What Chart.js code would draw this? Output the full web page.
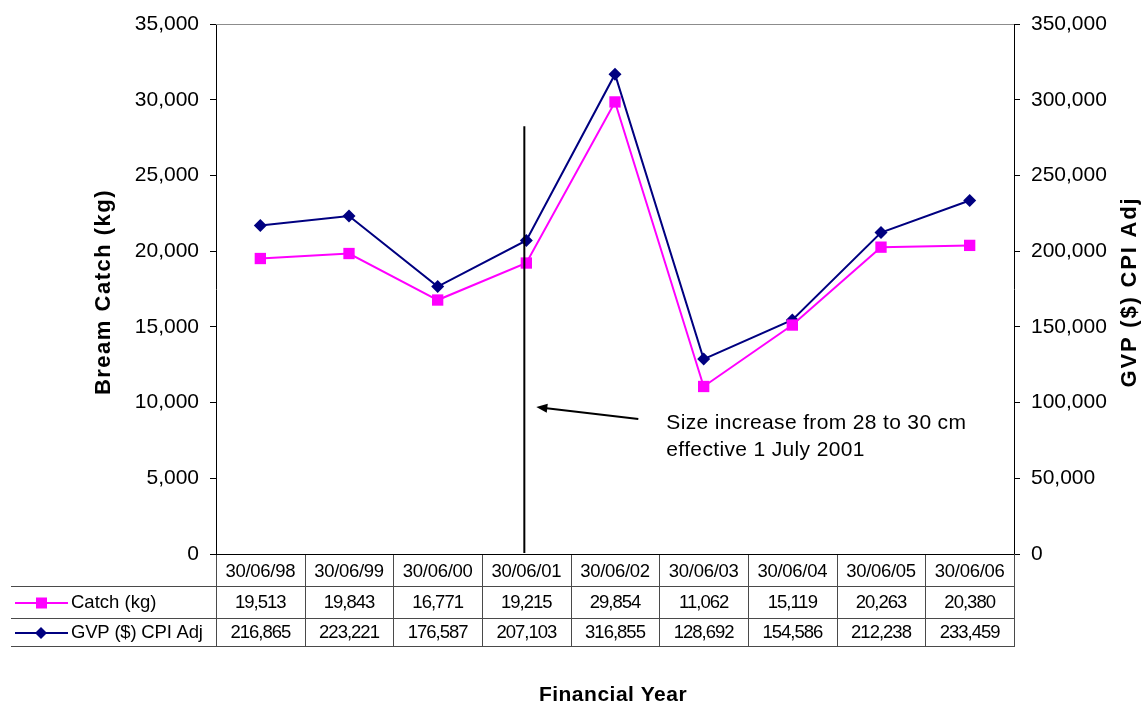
<!DOCTYPE html>
<html>
<head>
<meta charset="utf-8">
<script src="https://cdn.jsdelivr.net/npm/chart.js@4.4.1/dist/chart.umd.min.js"></script>
<style>
  html, body { margin: 0; padding: 0; background: #ffffff; }
  canvas { display: block; }
</style>
</head>
<body>
<canvas id="chart" width="1143" height="707"></canvas>
<script>
// Financial years (30 June year end)
const periods = ['30/06/98', '30/06/99', '30/06/00', '30/06/01', '30/06/02', '30/06/03', '30/06/04', '30/06/05', '30/06/06'];
// Bream catch, kg
const catchKg = [19513, 19843, 16771, 19215, 29854, 11062, 15119, 20263, 20380];
// Gross value of production, $ CPI adjusted
const gvpCpiAdj = [216865, 223221, 176587, 207103, 316855, 128692, 154586, 212238, 233459];

const catchLabel = 'Catch (kg)';
const gvpLabel = 'GVP ($) CPI Adj';

// Axis ranges
const catchRange = [0, 35000, 5000];
const gvpRange = [0, 350000, 50000];

// Minimum legal size change marker (category index, top of rule in kg units)
const ruleIndex = 3;
const ruleTopKg = 28250;
const noteLines = ['Size increase from 28 to 30 cm', 'effective 1 July 2001'];

const FONT = "'Liberation Sans', Arial, Helvetica, sans-serif";
const PINK = '#FF00FF';
const NAVY = '#000080';

Chart.defaults.font.family = FONT;
Chart.defaults.color = '#000000';

const fmt = v => v.toLocaleString('en-US');

function text(ctx, str, x, y, font, align, spacing) {
  ctx.save();
  ctx.font = font;
  ctx.textAlign = align || 'center';
  ctx.textBaseline = 'middle';
  ctx.fillStyle = '#000000';
  ctx.letterSpacing = (spacing || 0) + 'px';
  ctx.fillText(str, x, y);
  ctx.restore();
}

const extras = {
  id: 'extras',
  afterDraw(chart) {
    const { ctx, chartArea: a, scales } = chart;
    const x = scales.x, y = scales.y;
    const colW = x.getPixelForValue(1) - x.getPixelForValue(0);

    // grey frame along the top of the plot
    ctx.save();
    ctx.strokeStyle = '#8c8c8c';
    ctx.lineWidth = 1;
    ctx.beginPath();
    ctx.moveTo(a.left, a.top + 0.5);
    ctx.lineTo(a.right, a.top + 0.5);
    ctx.stroke();
    ctx.restore();

    // data table under the plot
    const r0 = a.bottom, r1 = a.bottom + 32, r2 = a.bottom + 64, r3 = a.bottom + 92;
    const tableLeft = 11;
    ctx.save();
    ctx.strokeStyle = '#4a4a4a';
    ctx.lineWidth = 1;
    ctx.beginPath();
    [r1, r2, r3].forEach(r => { ctx.moveTo(tableLeft, r + 0.5); ctx.lineTo(a.right + 1, r + 0.5); });
    for (let i = 0; i <= periods.length; i++) {
      const px = Math.round(x.getPixelForValue(0) - colW / 2 + i * colW) + 0.5;
      ctx.moveTo(px, r0);
      ctx.lineTo(px, r3 + 0.5);
    }
    ctx.stroke();
    // base axis line
    ctx.strokeStyle = '#000000';
    ctx.beginPath();
    ctx.moveTo(a.left, a.bottom + 0.5);
    ctx.lineTo(a.right, a.bottom + 0.5);
    ctx.stroke();
    ctx.restore();

    const cellFont = '18.5px ' + FONT;
    periods.forEach((p, i) => {
      const cx = x.getPixelForValue(i);
      text(ctx, p, cx, r0 + 18, cellFont, 'center', -0.3);
      text(ctx, fmt(catchKg[i]), cx, r1 + 17, cellFont, 'center', -1);
      text(ctx, fmt(gvpCpiAdj[i]), cx, r2 + 15, cellFont, 'center', -1);
    });

    // legend keys inside the table
    const keyY1 = r1 + 17, keyY2 = r2 + 15;
    ctx.save();
    ctx.lineWidth = 2;
    ctx.strokeStyle = PINK;
    ctx.beginPath(); ctx.moveTo(15, keyY1); ctx.lineTo(68, keyY1); ctx.stroke();
    ctx.fillStyle = PINK;
    ctx.fillRect(36, keyY1 - 5.5, 11, 11);
    ctx.strokeStyle = NAVY;
    ctx.beginPath(); ctx.moveTo(15, keyY2); ctx.lineTo(68, keyY2); ctx.stroke();
    ctx.fillStyle = NAVY;
    ctx.beginPath();
    ctx.moveTo(41, keyY2 - 6); ctx.lineTo(47, keyY2); ctx.lineTo(41, keyY2 + 6); ctx.lineTo(35, keyY2);
    ctx.closePath(); ctx.fill();
    ctx.restore();
    text(ctx, catchLabel, 71, keyY1, cellFont, 'left', 0);
    text(ctx, gvpLabel, 71, keyY2, cellFont, 'left', -0.2);

    // size limit rule and note
    const ruleX = x.getPixelForValue(ruleIndex) - 2;
    ctx.save();
    ctx.strokeStyle = '#000000';
    ctx.lineWidth = 2;
    ctx.beginPath();
    ctx.moveTo(ruleX, y.getPixelForValue(ruleTopKg));
    ctx.lineTo(ruleX, a.bottom - 1);
    ctx.stroke();
    // arrow
    const tipX = ruleX + 12, tipY = a.bottom - 147;
    const tailX = ruleX + 114, tailY = a.bottom - 135;
    ctx.lineWidth = 2;
    ctx.beginPath();
    ctx.moveTo(tailX, tailY);
    ctx.lineTo(tipX + 6, tipY + 0.7);
    ctx.stroke();
    const ang = Math.atan2(tipY - tailY, tipX - tailX);
    ctx.fillStyle = '#000000';
    ctx.beginPath();
    ctx.moveTo(tipX, tipY);
    ctx.lineTo(tipX - 11 * Math.cos(ang) + 4.5 * Math.sin(ang), tipY - 11 * Math.sin(ang) - 4.5 * Math.cos(ang));
    ctx.lineTo(tipX - 11 * Math.cos(ang) - 4.5 * Math.sin(ang), tipY - 11 * Math.sin(ang) + 4.5 * Math.cos(ang));
    ctx.closePath();
    ctx.fill();
    ctx.restore();
    const noteFont = '21px ' + FONT;
    text(ctx, noteLines[0], ruleX + 142, a.bottom - 131, noteFont, 'left', 0.35);
    text(ctx, noteLines[1], ruleX + 142, a.bottom - 104, noteFont, 'left', 0.35);

    // axis titles
    const titleFont = 'bold 22px ' + FONT;
    ctx.save();
    ctx.translate(104, 292);
    ctx.rotate(-Math.PI / 2);
    text(ctx, 'Bream Catch (kg)', 0, 0, titleFont, 'center', 1.5);
    ctx.restore();
    ctx.save();
    ctx.translate(1130, 292);
    ctx.rotate(-Math.PI / 2);
    text(ctx, 'GVP ($) CPI Adj', 0, 0, titleFont, 'center', 1.8);
    ctx.restore();
    text(ctx, 'Financial Year', 613, 695, 'bold 21px ' + FONT, 'center', 0.5);
  }
};

const axisCommon = {
  grid: { drawOnChartArea: false, drawTicks: true, tickLength: 6, color: '#000000', lineWidth: 1 },
  border: { display: true, color: '#000000', width: 1 },
};

new Chart(document.getElementById('chart'), {
  type: 'line',
  data: {
    labels: periods,
    datasets: [
      {
        label: catchLabel,
        data: catchKg,
        yAxisID: 'y',
        borderColor: PINK,
        backgroundColor: PINK,
        borderWidth: 2,
        pointStyle: 'rect',
        pointRadius: 8,
        pointHoverRadius: 8,
        pointBorderWidth: 0,
        tension: 0
      },
      {
        label: gvpLabel,
        data: gvpCpiAdj,
        yAxisID: 'y1',
        borderColor: NAVY,
        backgroundColor: NAVY,
        borderWidth: 2,
        pointStyle: 'rectRot',
        pointRadius: 6.5,
        pointHoverRadius: 6.5,
        pointBorderWidth: 0,
        tension: 0
      }
    ]
  },
  options: {
    responsive: false,
    animation: false,
    devicePixelRatio: 1,
    layout: { padding: { top: 24, bottom: 153, left: 0, right: 0 } },
    plugins: { legend: { display: false }, tooltip: { enabled: false } },
    scales: {
      x: { type: 'category', offset: true, display: false },
      y: {
        position: 'left',
        min: catchRange[0], max: catchRange[1],
        ticks: { stepSize: catchRange[2], font: { size: 21 }, color: '#000000', padding: 11, callback: v => fmt(v) },
        afterFit: s => { s.width = 216; },
        ...axisCommon
      },
      y1: {
        position: 'right',
        min: gvpRange[0], max: gvpRange[1],
        ticks: { stepSize: gvpRange[2], font: { size: 21 }, color: '#000000', padding: 11, callback: v => fmt(v) },
        afterFit: s => { s.width = 129; },
        ...axisCommon
      }
    }
  },
  plugins: [extras]
});
</script>
</body>
</html>
